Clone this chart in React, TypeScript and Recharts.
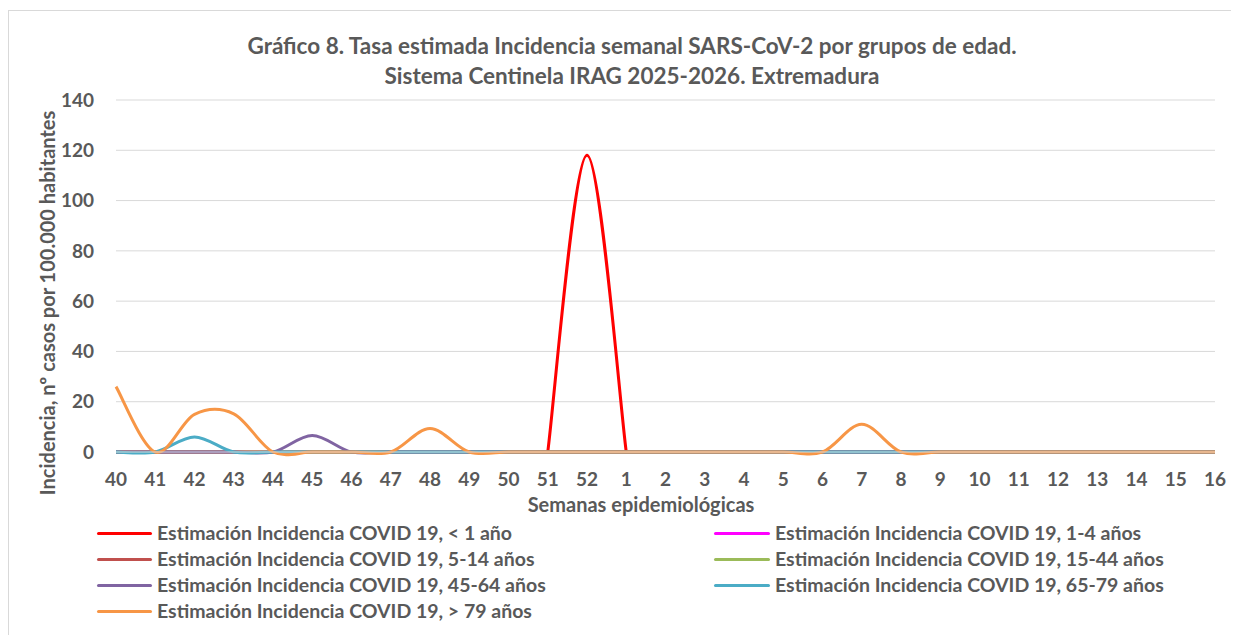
import React from 'react';
import { LineChart, Line, XAxis, YAxis, CartesianGrid, Legend } from 'recharts';

const weeks = ['40', '41', '42', '43', '44', '45', '46', '47', '48', '49', '50', '51', '52', '1', '2', '3', '4', '5', '6', '7', '8', '9', '10', '11', '12', '13', '14', '15', '16'];

const menor1 = [null, null, null, null, null, null, null, null, null, null, null, 0, 118, 0, null, null, null, null, null, null, null, null, null, null, null, null, null, null, null];
const de1a4 = [0, 0, 0, 0, 0, 0, 0, 0, 0, 0, 0, 0, 0, 0, 0, 0, 0, 0, 0, 0, 0, 0, 0, 0, 0, 0, 0, 0, 0];
const de5a14 = [0, 0, 0, 0, 0, 0, 0, 0, 0, 0, 0, 0, 0, 0, 0, 0, 0, 0, 0, 0, 0, 0, 0, 0, 0, 0, 0, 0, 0];
const de15a44 = [0, 0, 0, 0, 0, 0, 0, 0, 0, 0, 0, 0, 0, 0, 0, 0, 0, 0, 0, 0, 0, 0, 0, 0, 0, 0, 0, 0, 0];
const de45a64 = [0, 0, 0, 0, 0, 6.6, 0, 0, 0, 0, 0, 0, 0, 0, 0, 0, 0, 0, 0, 0, 0, 0, 0, 0, 0, 0, 0, 0, 0];
const de65a79 = [0, 0, 6, 0, 0, 0, 0, 0, 0, 0, 0, 0, 0, 0, 0, 0, 0, 0, 0, 0, 0, 0, 0, 0, 0, 0, 0, 0, 0];
const mayor79 = [26, 0, 15, 15.2, 0, 0, 0, 0, 9.3, 0, 0, 0, 0, 0, 0, 0, 0, 0, 0, 11, 0, 0, 0, 0, 0, 0, 0, 0, 0];

const yTicks = [0, 20, 40, 60, 80, 100, 120, 140];

const seriesNames = [
  'Estimación Incidencia COVID 19, < 1 año',
  'Estimación Incidencia COVID 19, 1-4 años',
  'Estimación Incidencia COVID 19, 5-14 años',
  'Estimación Incidencia COVID 19, 15-44 años',
  'Estimación Incidencia COVID 19, 45-64 años',
  'Estimación Incidencia COVID 19, 65-79 años',
  'Estimación Incidencia COVID 19, > 79 años',
];
const seriesColors = ['#FF0000', '#FF00FF', '#C0504D', '#9BBB59', '#8064A2', '#4BACC6', '#F79646'];
const seriesValues = [menor1, de1a4, de5a14, de15a44, de45a64, de65a79, mayor79];

const data = weeks.map((w, i) => {
  const row: any = { week: w };
  seriesValues.forEach((vals, s) => {
    row['s' + s] = vals[i];
  });
  return row;
});

// Excel-like smoothed line (Bezier with limited control points)
function excelSmooth(context: any) {
  let pts: number[][] = [];
  const dist = (a: number[], b: number[]) => Math.hypot(a[0] - b[0], a[1] - b[1]);
  return {
    areaStart() {},
    areaEnd() {},
    lineStart() {
      pts = [];
    },
    lineEnd() {
      const n = pts.length;
      if (!n) return;
      context.moveTo(pts[0][0], pts[0][1]);
      if (n === 1) return;
      for (let i = 0; i < n - 1; i++) {
        const p0 = pts[Math.max(0, i - 1)];
        const p1 = pts[i];
        const p2 = pts[i + 1];
        const p3 = pts[Math.min(n - 1, i + 2)];
        const d12 = dist(p1, p2);
        const d02 = dist(p0, p2);
        const d13 = dist(p1, p3);
        const f = d02 > 0 ? Math.min(1 / 6, d12 / (2 * d02)) : 0;
        const g = d13 > 0 ? Math.min(1 / 6, d12 / (2 * d13)) : 0;
        context.bezierCurveTo(
          p1[0] + f * (p2[0] - p0[0]),
          p1[1] + f * (p2[1] - p0[1]),
          p2[0] - g * (p3[0] - p1[0]),
          p2[1] - g * (p3[1] - p1[1]),
          p2[0],
          p2[1]
        );
      }
    },
    point(x: number, y: number) {
      pts.push([+x, +y]);
    },
  };
}

const FONT = "Lato, 'Open Sans', sans-serif";
const GRAY = '#595959';

const legendRows = [17, 43, 69, 95];
const legendCols = [
  { line: 88, lineW: 55, text: 148 },
  { line: 705, lineW: 56, text: 766 },
];

const renderLegend = () => (
  <div style={{ position: 'relative', width: 1230, height: 120 }}>
    {seriesNames.map((name, i) => {
      const row = Math.floor(i / 2);
      const col = legendCols[i % 2];
      const top = legendRows[row];
      return (
        <div key={name}>
          <div
            style={{
              position: 'absolute',
              left: col.line,
              top: top - 1.5,
              width: col.lineW,
              height: 3,
              background: seriesColors[i],
              borderRadius: 1.5,
            }}
          />
          <div
            style={{
              position: 'absolute',
              left: col.text,
              top: top - 13,
              height: 26,
              lineHeight: '26px',
              fontFamily: FONT,
              fontWeight: 700,
              fontSize: 19.5,
              color: GRAY,
              whiteSpace: 'nowrap',
            }}
          >
            {name}
          </div>
        </div>
      );
    })}
  </div>
);

const YLabel = () => (
  <text
    x={38}
    y={292}
    transform="rotate(-90 38 292)"
    textAnchor="middle"
    dominantBaseline="central"
    fill={GRAY}
    fontFamily={FONT}
    fontWeight={700}
    fontSize={20}
  >
    Incidencia, nº casos por 100.000 habitantes
  </text>
);

const XLabel = () => (
  <text
    x={632}
    y={493}
    textAnchor="middle"
    dominantBaseline="central"
    fill={GRAY}
    fontFamily={FONT}
    fontWeight={700}
    fontSize={20}
  >
    Semanas epidemiológicas
  </text>
);

export default function App() {
  return (
    <div
      style={{
        position: 'relative',
        marginTop: 2,
        width: 1231,
        height: 625,
        boxSizing: 'border-box',
        borderTop: '1px solid #d9d9d9',
        borderLeft: '1px solid #d9d9d9',
        background: '#fff',
        overflow: 'hidden',
      }}
    >
      <div
        style={{
          position: 'absolute',
          left: 0,
          top: 20,
          width: 1246,
          textAlign: 'center',
          fontFamily: FONT,
          fontWeight: 700,
          fontSize: 22.5,
          lineHeight: '30px',
          color: GRAY,
          zIndex: 2,
        }}
      >
        <div>Gráfico 8. Tasa estimada Incidencia semanal SARS-CoV-2 por grupos de edad.</div>
        <div>Sistema Centinela IRAG 2025-2026. Extremadura</div>
      </div>
      <LineChart
        width={1230}
        height={624}
        data={data}
        margin={{ top: 89, right: 24, left: 0, bottom: 123 }}
      >
        <CartesianGrid vertical={false} stroke="#d9d9d9" strokeWidth={1} />
        <XAxis
          dataKey="week"
          type="category"
          interval={0}
          padding={{ left: 0, right: 0 }}
          axisLine={{ stroke: '#d9d9d9' }}
          tickLine={false}
          tickSize={0}
          tickMargin={21}
          height={60}
          tick={{ fill: GRAY, fontFamily: FONT, fontWeight: 700, fontSize: 19 }}
          label={{ content: () => <XLabel /> }}
        />
        <YAxis
          domain={[0, 140]}
          ticks={yTicks}
          width={107}
          axisLine={false}
          tickLine={false}
          tickSize={0}
          tickMargin={22}
          tick={{ fill: GRAY, fontFamily: FONT, fontWeight: 700, fontSize: 19 }}
          label={{ content: () => <YLabel /> }}
        />
        {seriesNames.map((name, s) => (
          <Line
            key={name}
            dataKey={'s' + s}
            name={name}
            type={excelSmooth as any}
            stroke={seriesColors[s]}
            strokeWidth={3}
            dot={false}
            activeDot={false}
            isAnimationActive={false}
          />
        ))}
        <Legend
          layout="horizontal"
          verticalAlign="middle"
          align="center"
          wrapperStyle={{ left: 0, top: 505, width: 1230 }}
          content={renderLegend}
        />
      </LineChart>
    </div>
  );
}
